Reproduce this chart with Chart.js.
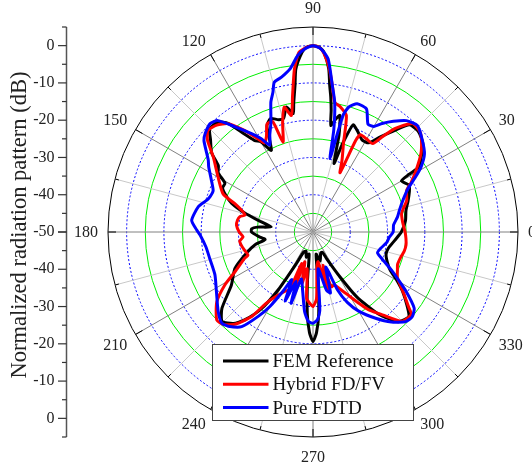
<!DOCTYPE html>
<html>
<head>
<meta charset="utf-8">
<title>Normalized radiation pattern</title>
<script src="https://cdn.jsdelivr.net/npm/chart.js@4.4.0/dist/chart.umd.min.js"></script>
<style>
  html, body { margin: 0; padding: 0; background: #fff; }
  #wrap { width: 532px; height: 470px; position: relative; }
</style>
</head>
<body>
<div id="wrap"><canvas id="pattern"></canvas></div>
<script>
// Angles in degrees (0 = right, counter-clockwise), values in dB
const femAngles = [0, 7, 13, 18, 23, 26, 30, 31, 31.5, 35, 38, 41, 44, 48, 51, 55, 58, 62, 66, 69.5, 71.5, 73, 75, 77, 78.5, 80.5, 81.5, 82.5, 83.5, 84.5, 86.5, 88, 90,
  92, 93.5, 96, 97, 98.5, 99.5, 102, 104.5, 107, 110.5, 113.5, 117, 120, 122.5, 125, 128, 131, 135, 138, 142, 145, 148, 151, 154, 157, 160.5, 164.5, 168, 173, 175, 177,
  180, 185, 189, 192.5, 197.5, 205, 213, 220, 224.5, 229, 232, 236, 239, 242, 245, 250, 255, 260, 263.5, 266, 268, 270, 272, 274, 276, 278, 284, 290, 295, 297,
  301, 304, 308.5, 313.5, 318.5, 322, 326.5, 330, 333.5, 338, 343, 348, 354];
const femDb = [-26.3, -25, -24.4, -23.2, -21.9, -21.3, -22.6, -20, -16.6, -14.5, -12.5, -11.5, -10.9, -11.3, -14.8, -19, -21.8, -22, -20.5, -19.3, -25, -30.8, -23, -17.9, -19, -21, -17, -13.5, -10.4, -6, -1.7, -0.4, 0,
  -0.4, -1.7, -6, -10.4, -15, -17.8, -15.7, -18.5, -18.5, -17.5, -19, -25.4, -22, -20.9, -17.9, -13, -11, -10.8, -13, -15.5, -19, -20, -23, -23, -24.5, -26.8, -31, -35, -38.7, -35, -33.5,
  -33.5, -35.5, -37, -34, -31.3, -26.9, -23.9, -18.1, -15.8, -17.5, -20, -25, -32, -40, -44, -44.5, -43, -44, -37, -28, -23, -20.6, -23, -28, -37, -44, -42, -44, -44, -42,
  -36, -29, -22, -16.8, -15.7, -18, -21.2, -24, -26.8, -28.5, -29.5, -29.3, -28];

const hybridAngles = [0, 6, 12, 18.5, 24, 26.5, 31, 36, 40, 43, 47.5, 51.5, 54, 56, 60, 64, 65, 65.5, 68, 71, 74, 77.5, 80.5, 82.5, 84.5, 86.5, 88, 90,
  92, 94.5, 96.5, 98.5, 100.5, 103, 105.5, 108.5, 110, 113, 116, 118.5, 121, 124, 128, 132, 136, 139, 143, 150, 157, 160, 163, 166, 168, 171, 175,
  180, 184, 187, 191, 195, 199.5, 201, 207, 211, 216, 222.5, 226, 230, 234, 236.5, 240, 244.5, 248, 250, 252, 254.5, 258, 261, 264.5, 267,
  270, 273, 276, 279.5, 283, 285, 286.5, 288.5, 292, 296, 299, 303.5, 306, 310, 315, 320, 322, 325.5, 331.5, 336, 339, 344, 348, 352, 356];
const hybridDb = [-25.3, -25.8, -25.7, -23.5, -22.5, -20.7, -17.7, -14.2, -12, -10.7, -10.5, -14.5, -18.5, -21.4, -21.2, -21, -23, -32.5, -29.2, -24.9, -17.5, -15.7, -14.7, -10.3, -5.5, -2, -0.5, 0,
  -0.4, -1.7, -6, -12.9, -18.2, -15.6, -19.5, -24.6, -18.5, -18.5, -21.5, -22.8, -20.5, -17.1, -13.1, -11.4, -10.8, -12.5, -16.5, -20.6, -23.8, -27.6, -29.9, -31.2, -30, -29.5, -29.4,
  -30.2, -31.2, -30.2, -30.5, -31, -31.5, -30.4, -26.5, -22.4, -18.1, -15, -15.5, -17.8, -22, -26.9, -30, -32.3, -33.5, -41, -34, -41.7, -36, -40, -32.1, -31,
  -30, -32, -40, -41.9, -37, -34, -40.7, -34.5, -34.7, -32.7, -30.7, -26.5, -24, -21, -16.1, -15.6, -17.5, -20.3, -24.2, -25.2, -25.7, -25.5, -25, -24.8, -25];

const fdtdAngles = [0, 5, 10, 14.5, 20, 24.5, 28, 31, 35, 40, 45.5, 50, 54, 57.5, 60, 63, 66.5, 71, 74, 75.5, 76, 77, 78.5, 80.5, 82.5, 85, 87.5, 90,
  92.5, 95, 98, 101.5, 104.5, 106, 108, 111, 114, 116.5, 119, 122, 126.5, 130.5, 133.5, 137.5, 140, 145.5, 148, 153, 157.5, 161, 163.5, 167.5, 174.5,
  179, 181.5, 188, 194.5, 203.5, 211.5, 220, 225, 228, 233, 237, 240, 243, 246, 248, 251, 253, 256, 260, 264, 267,
  270, 273, 275, 278, 283, 286, 290, 293, 296, 300, 306, 311, 316, 319.5, 323, 327.5, 331, 334, 337.5, 342, 346.5, 352, 356];
const fdtdDb = [-28.5, -28.3, -27, -26, -24.2, -22, -19, -16.2, -13.5, -11.7, -10, -11, -13.3, -15.5, -17.3, -17.5, -14, -13.6, -15.1, -17.5, -22, -29.8, -22, -14.7, -10.3, -3.4, -0.8, 0,
  -0.8, -2.5, -5.8, -7.6, -8.5, -11, -13.4, -18.5, -21.5, -24, -21.4, -18.9, -14.9, -10.7, -9.9, -10.8, -11.8, -15.9, -17, -19.4, -21, -20.8, -20.2, -18.5, -17.3,
  -18.8, -19.7, -21, -21.4, -21.3, -19.6, -16.8, -15.4, -16, -18.2, -23, -27, -32, -36, -30, -36, -30, -37, -34, -28.5, -26,
  -25.5, -26.5, -29, -40, -34, -33, -40, -33, -29, -25.5, -21.4, -18, -15.4, -15, -16, -20.4, -24, -26.5, -29.3, -31.8, -31.3, -30, -29.5];

// Axis ticks
const angleTicks = [0, 30, 60, 90, 120, 150, 180, 210, 240, 270, 300, 330];
const radialTicks = [0, -10, -20, -30, -40, -50];

const STEP = 0.5;              // angular resolution of the label list
const SLOTS = 360 / STEP;
const serif = '"Liberation Serif", "Times New Roman", serif';

// Radar starts at the top and runs clockwise: slot i is the angle 90 - i*STEP
function slotOf(deg) {
  return Math.round((((90 - deg) % 360 + 360) % 360) / STEP) % SLOTS;
}

function toSlots(angles, values) {
  const out = new Array(SLOTS).fill(null);
  angles.forEach((a, k) => { out[slotOf(a)] = values[k]; });
  return out;
}

const labels = Array.from({ length: SLOTS }, (_, i) => String(((90 - i * STEP) % 360 + 360) % 360));

function ringColor(v) {
  if (v === 5) return '#000000';
  if (v === -50) return 'rgba(0,0,0,0)';
  return v % 10 === 0 ? '#0000ff' : '#00ee00';
}

// Frame, angle labels, left axis and legend drawn on top
const decorPlugin = {
  id: 'decor',
  afterDraw(chart) {
    const ctx = chart.ctx;
    const r = chart.scales.r;
    const R = r.drawingArea;
    ctx.save();

    // small ticks on the outer ring
    ctx.strokeStyle = '#000';
    ctx.lineWidth = 1;
    for (let a = 0; a < 360; a += 15) {
      const len = a % 30 === 0 ? 8 : 4;
      const p1 = r.getPointPosition(slotOf(a), R);
      const p2 = r.getPointPosition(slotOf(a), R - len);
      ctx.beginPath();
      ctx.moveTo(p1.x, p1.y);
      ctx.lineTo(p2.x, p2.y);
      ctx.stroke();
    }

    // angle labels
    const fs = 16;
    ctx.font = fs + 'px ' + serif;
    ctx.fillStyle = '#222';
    ctx.textBaseline = 'alphabetic';
    angleTicks.forEach(a => {
      const cardinal = a % 90 === 0;
      const gap = (a === 90 || a === 270) ? 14 : (cardinal ? 10 : 9.5);
      const p = r.getPointPosition(slotOf(a), R + gap);
      let y = p.y;
      if (a === 90 || a === 270) ctx.textAlign = 'center';
      else ctx.textAlign = (a > 90 && a < 270) ? 'right' : 'left';
      if (a === 0 || a === 180) y += fs * 0.33;
      else if (a > 180) y += fs * 0.68;
      ctx.fillText(String(a), p.x, y);
    });

    // left dB axis (mirrored above and below the centre)
    const ax = 66.5;
    ctx.strokeStyle = '#555';
    ctx.lineWidth = 1.5;
    ctx.beginPath();
    ctx.moveTo(ax, r.yCenter - R);
    ctx.lineTo(ax, r.yCenter + R);
    ctx.stroke();
    ctx.strokeStyle = '#333';
    ctx.lineWidth = 1.2;
    for (let v = 5; v >= -50; v -= 5) {
      const d = r.getDistanceFromCenterForValue(v);
      const len = v % 10 === 0 ? 8.5 : 4.5;
      [-1, 1].forEach(s => {
        const y = r.yCenter + s * d;
        ctx.beginPath();
        ctx.moveTo(ax - len, y);
        ctx.lineTo(ax, y);
        ctx.stroke();
      });
    }
    ctx.textAlign = 'right';
    ctx.textBaseline = 'middle';
    ctx.fillStyle = '#222';
    radialTicks.forEach(v => {
      const d = r.getDistanceFromCenterForValue(v);
      ctx.fillText(String(v), ax - 12, r.yCenter - d);
      if (v !== -50) ctx.fillText(String(v), ax - 12, r.yCenter + d);
    });

    // axis title
    ctx.save();
    ctx.translate(20, r.yCenter - 7);
    ctx.rotate(-Math.PI / 2);
    ctx.textAlign = 'center';
    ctx.font = '22.5px ' + serif;
    ctx.fillText('Normalized radiation pattern (dB)', 0, 0);
    ctx.restore();

    // legend box
    const lx = 212.5, ly = 344.5, lw = 201, lh = 76;
    ctx.fillStyle = '#fff';
    ctx.fillRect(lx, ly, lw, lh);
    ctx.strokeStyle = '#444';
    ctx.lineWidth = 1;
    ctx.strokeRect(lx, ly, lw, lh);
    ctx.font = '19px ' + serif;
    ctx.textAlign = 'left';
    ctx.textBaseline = 'middle';
    chart.data.datasets.forEach((ds, k) => {
      const y = ly + 16.5 + k * 23.3;
      ctx.strokeStyle = ds.borderColor;
      ctx.lineWidth = 3;
      ctx.beginPath();
      ctx.moveTo(lx + 10.5, y);
      ctx.lineTo(lx + 56, y);
      ctx.stroke();
      ctx.fillStyle = '#111';
      ctx.fillText(ds.label, lx + 60, y + 1);
    });

    ctx.restore();
  }
};

new Chart(document.getElementById('pattern'), {
  type: 'radar',
  data: {
    labels: labels,
    datasets: [
      { label: 'FEM Reference', data: toSlots(femAngles, femDb), borderColor: '#000000', order: 3 },
      { label: 'Hybrid FD/FV', data: toSlots(hybridAngles, hybridDb), borderColor: '#ff0000', order: 2 },
      { label: 'Pure FDTD', data: toSlots(fdtdAngles, fdtdDb), borderColor: '#0000ff', order: 1 }
    ]
  },
  options: {
    responsive: true,
    maintainAspectRatio: false,
    animation: false,
    spanGaps: true,
    layout: { padding: { left: 108, right: 14, top: 27, bottom: 33 } },
    elements: {
      line: { borderWidth: 3, tension: 0.2, fill: false, borderJoinStyle: 'round', borderCapStyle: 'round' },
      point: { radius: 0, hitRadius: 0 }
    },
    plugins: { legend: { display: false }, tooltip: { enabled: false } },
    scales: {
      r: {
        min: -50,
        max: 5,
        startAngle: 0,
        ticks: { display: false, stepSize: 5 },
        pointLabels: { display: false },
        grid: {
          circular: true,
          lineWidth: 1,
          color: c => ringColor(c.tick.value)
        },
        border: {
          dash: c => (c.tick && c.tick.value % 10 === 0 && c.tick.value !== -50) ? [2, 2] : []
        },
        angleLines: {
          color: c => (c.index % 60 === 0 ? '#808080' : '#c8c8c8'),
          lineWidth: c => (c.index % 30 === 0 ? 1 : 0)
        }
      }
    }
  },
  plugins: [decorPlugin]
});
</script>
</body>
</html>
